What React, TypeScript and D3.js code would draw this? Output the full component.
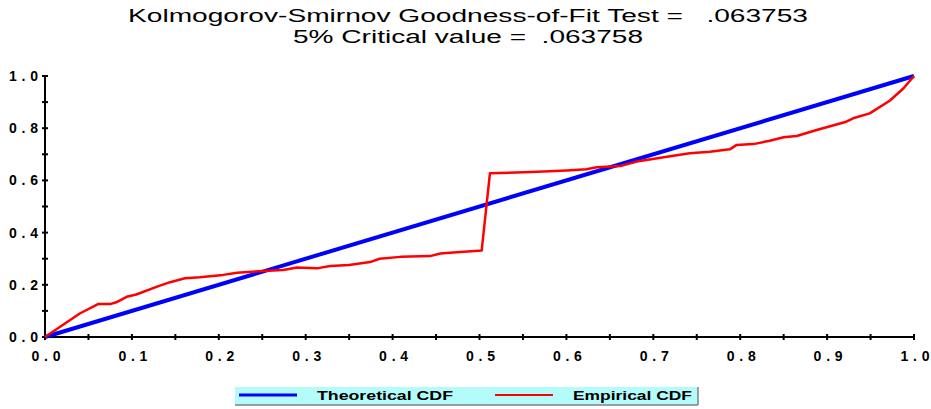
import React from "react";
import * as d3 from "d3";

// empirical CDF
const empX = [0, 0.02, 0.04, 0.061, 0.075, 0.082, 0.094, 0.105, 0.129, 0.144, 0.161, 0.178, 0.205, 0.221, 0.251, 0.274, 0.29, 0.313, 0.328, 0.35, 0.374, 0.385, 0.409, 0.443, 0.455, 0.466, 0.5025, 0.512, 0.56, 0.6, 0.623, 0.635, 0.662, 0.681, 0.712, 0.742, 0.765, 0.788, 0.796, 0.815, 0.834, 0.85, 0.865, 0.888, 0.922, 0.93, 0.949, 0.972, 0.988, 1.0];
const empY = [0, 0.045, 0.09, 0.126, 0.126, 0.133, 0.154, 0.163, 0.193, 0.21, 0.225, 0.229, 0.238, 0.246, 0.253, 0.257, 0.266, 0.263, 0.272, 0.276, 0.287, 0.3, 0.307, 0.31, 0.32, 0.323, 0.331, 0.627, 0.632, 0.638, 0.643, 0.65, 0.655, 0.672, 0.689, 0.704, 0.71, 0.719, 0.736, 0.739, 0.752, 0.765, 0.77, 0.793, 0.825, 0.838, 0.857, 0.905, 0.953, 1.0];
const theoX = [0, 1];
const theoY = [0, 1];
const xTickLabels = ["0.0", "0.1", "0.2", "0.3", "0.4", "0.5", "0.6", "0.7", "0.8", "0.9", "1.0"];
const yTickLabels = ["0.0", "0.2", "0.4", "0.6", "0.8", "1.0"];
const titleLines = ["Kolmogorov-Smirnov Goodness-of-Fit Test =   .063753", "5% Critical value =  .063758"];

const W = 931;
const H = 409;
const font = "Arial, 'Liberation Sans', sans-serif";

export default function App() {
  const x = d3.scaleLinear().domain([0, 1]).range([45, 914]);
  const y = d3.scaleLinear().domain([0, 1]).range([337, 76]);
  const line = d3.line<[number, number]>().x(d => x(d[0])).y(d => y(d[1]));
  const emp = empX.map((v, i) => [v, empY[i]] as [number, number]);
  const theo = theoX.map((v, i) => [v, theoY[i]] as [number, number]);
  const xMinor = d3.range(0, 1.0001, 0.05);
  const yMinor = d3.range(0, 1.0001, 0.1);

  return (
    <svg width={W} height={H} style={{ position: "absolute", left: 0, top: 0, background: "#fff" }}>
      <text x={468} y={22} textAnchor="middle" fontFamily={font} fontSize={18} textLength={680} lengthAdjust="spacingAndGlyphs" style={{ whiteSpace: "pre" }}>{titleLines[0]}</text>
      <text x={468} y={43} textAnchor="middle" fontFamily={font} fontSize={18} textLength={350} lengthAdjust="spacingAndGlyphs" style={{ whiteSpace: "pre" }}>{titleLines[1]}</text>

      {/* axes */}
      <line x1={x(0)} x2={x(1)} y1={y(0)} y2={y(0)} stroke="#000" strokeWidth={2} />
      <line x1={x(0)} x2={x(0)} y1={y(0)} y2={y(1)} stroke="#000" strokeWidth={2} />
      {xMinor.map((v, i) => (
        <line key={"xt" + i} x1={x(v)} x2={x(v)} y1={y(0) - 3} y2={y(0) + 3} stroke="#000" strokeWidth={2} />
      ))}
      {yMinor.map((v, i) => (
        <line key={"yt" + i} x1={x(0) - 3} x2={x(0) + 3} y1={y(v)} y2={y(v)} stroke="#000" strokeWidth={2} />
      ))}
      {xTickLabels.map((t, i) => (
        <text key={"xl" + i} x={x(+t) + 1} y={361} textAnchor="middle" fontFamily={font} fontSize={14} fontWeight="bold" textLength={29} lengthAdjust="spacing">{t}</text>
      ))}
      {yTickLabels.map((t, i) => (
        <text key={"yl" + i} x={9} y={y(+t) + 5} fontFamily={font} fontSize={14} fontWeight="bold" textLength={29} lengthAdjust="spacing">{t}</text>
      ))}

      <path d={line(theo) || ""} fill="none" stroke="#0000ff" strokeWidth={4} />
      <path d={line(emp) || ""} fill="none" stroke="#ff0000" strokeWidth={2.5} strokeLinejoin="round" />

      {/* legend */}
      <rect x={235} y={387} width={463} height={18} fill="#b4fcfc" />
      <line x1={235} x2={698} y1={405} y2={405} stroke="#808080" strokeWidth={1.5} />
      <line x1={698} x2={698} y1={387} y2={405} stroke="#808080" strokeWidth={1.5} />
      <line x1={239} x2={297} y1={395} y2={395} stroke="#0000ff" strokeWidth={3} />
      <text x={317} y={400} fontFamily={font} fontSize={12} fontWeight="bold" textLength={136} lengthAdjust="spacingAndGlyphs">Theoretical CDF</text>
      <line x1={495} x2={553} y1={395} y2={395} stroke="#ff0000" strokeWidth={2} />
      <text x={573} y={400} fontFamily={font} fontSize={12} fontWeight="bold" textLength={119} lengthAdjust="spacingAndGlyphs">Empirical CDF</text>
    </svg>
  );
}
